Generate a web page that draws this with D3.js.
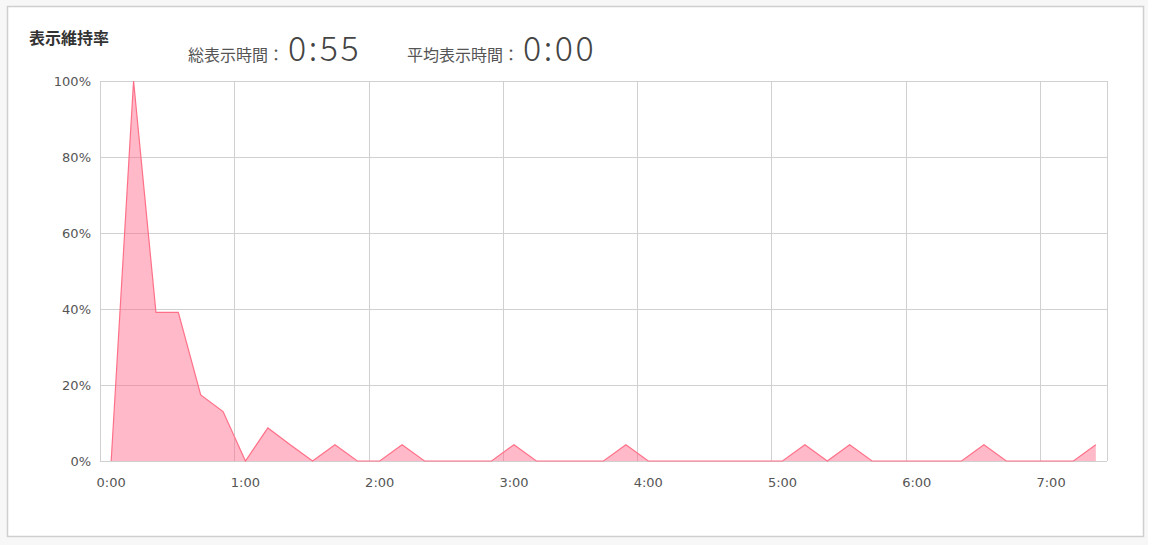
<!DOCTYPE html>
<html>
<head>
<meta charset="utf-8">
<script src="https://cdn.jsdelivr.net/npm/d3@7"></script>
<style>
  html, body { margin: 0; padding: 0; background: #fff; overflow: hidden; }
  svg { display: block; }
</style>
</head>
<body>
<svg id="chart"></svg>
<script>
// 10-second buckets, 0:00 .. 7:20
const seconds = d3.range(0, 450, 10);
const retention = [
  0, 100, 39.1, 39.1, 17.4, 13, 0, 8.7, 4.3, 0,
  4.3, 0, 0, 4.3, 0, 0, 0, 0, 4.3, 0,
  0, 0, 0, 4.3, 0, 0, 0, 0, 0, 0,
  0, 4.3, 0, 4.3, 0, 0, 0, 0, 0, 4.3,
  0, 0, 0, 0, 4.3
];
const yTicks = [0, 20, 40, 60, 80, 100];
const totalTime = '0:55';
const avgTime = '0:00';

const fmt = s => `${Math.floor(s / 60)}:${String(s % 60).padStart(2, '0')}`;

const width = 1160, height = 545;
const margin = { top: 81, right: 53, bottom: 84, left: 100 };
const innerWidth = width - margin.left - margin.right;
const innerHeight = height - margin.top - margin.bottom;

const jp = "'Noto Sans CJK JP', sans-serif";
const latin = "'DejaVu Sans', Verdana, sans-serif";

const root = d3.select('#chart')
  .attr('width', width)
  .attr('height', height);

// page background + card
root.append('rect')
  .attr('width', 1148).attr('height', height)
  .attr('fill', '#f7f7f7');

root.append('rect')
  .attr('x', 7.5).attr('y', 6.5)
  .attr('width', 1136).attr('height', 530)
  .attr('fill', '#fff')
  .attr('stroke', '#cfcfcf')
  .attr('stroke-width', 1.5);

// header
root.append('text')
  .attr('x', 29).attr('y', 44)
  .attr('font-family', jp)
  .attr('font-weight', 'bold')
  .attr('font-size', 16)
  .attr('fill', '#333')
  .text('表示維持率');

const stats = [
  { label: '総表示時間：', value: totalTime, x: 188 },
  { label: '平均表示時間：', value: avgTime, x: 407 }
];

stats.forEach(s => {
  const label = root.append('text')
    .attr('x', s.x).attr('y', 61)
    .attr('font-family', jp)
    .attr('font-size', 16)
    .attr('fill', '#555')
    .text(s.label);
  const w = label.node().getComputedTextLength();
  root.append('text')
    .attr('x', s.x + w + 4).attr('y', 61)
    .attr('font-family', jp)
    .attr('font-size', 34)
    .attr('font-weight', 300)
    .attr('letter-spacing', 2.5)
    .attr('fill', '#444')
    .text(s.value);
});

const svg = root.append('g')
  .attr('transform', `translate(${margin.left},${margin.top})`);

const x = d3.scaleBand()
  .domain(seconds)
  .range([0, innerWidth]);

const y = d3.scaleLinear()
  .domain([0, 100])
  .range([innerHeight, 0]);

const cx = d => x(d) + x.bandwidth() / 2;

// horizontal grid
svg.append('g')
  .selectAll('line')
  .data(yTicks)
  .enter()
  .append('line')
    .attr('x1', 0).attr('x2', innerWidth)
    .attr('y1', d => Math.round(y(d)) + 0.5)
    .attr('y2', d => Math.round(y(d)) + 0.5)
    .attr('stroke', '#d0d0d0');

// vertical grid every minute (band boundaries)
const minuteMarks = seconds.filter(s => s % 60 === 0);
svg.append('g')
  .selectAll('line')
  .data(minuteMarks.map(d => x(d)).concat([innerWidth]))
  .enter()
  .append('line')
    .attr('x1', d => Math.round(d) + 0.5)
    .attr('x2', d => Math.round(d) + 0.5)
    .attr('y1', 0).attr('y2', innerHeight)
    .attr('stroke', '#d0d0d0');

// area + line
const area = d3.area()
  .x((d, i) => cx(seconds[i]))
  .y0(y(0))
  .y1(d => y(d));

const line = d3.line()
  .x((d, i) => cx(seconds[i]))
  .y(d => y(d));

svg.append('path')
  .datum(retention)
  .attr('d', area)
  .attr('fill', 'rgba(255,99,132,0.45)');

svg.append('path')
  .datum(retention)
  .attr('d', line)
  .attr('fill', 'none')
  .attr('stroke', '#ff7088')
  .attr('stroke-width', 1.2);

// y axis labels
svg.append('g')
  .selectAll('text')
  .data(yTicks)
  .enter()
  .append('text')
    .attr('x', -9)
    .attr('y', d => y(d) + 5)
    .attr('text-anchor', 'end')
    .attr('font-family', latin)
    .attr('font-size', 13)
    .attr('fill', '#555')
    .text(d => d + '%');

// x axis labels
svg.append('g')
  .selectAll('text')
  .data(minuteMarks)
  .enter()
  .append('text')
    .attr('x', d => cx(d))
    .attr('y', innerHeight + 26)
    .attr('text-anchor', 'middle')
    .attr('font-family', latin)
    .attr('font-size', 13)
    .attr('fill', '#555')
    .text(d => fmt(d));
</script>
</body>
</html>
